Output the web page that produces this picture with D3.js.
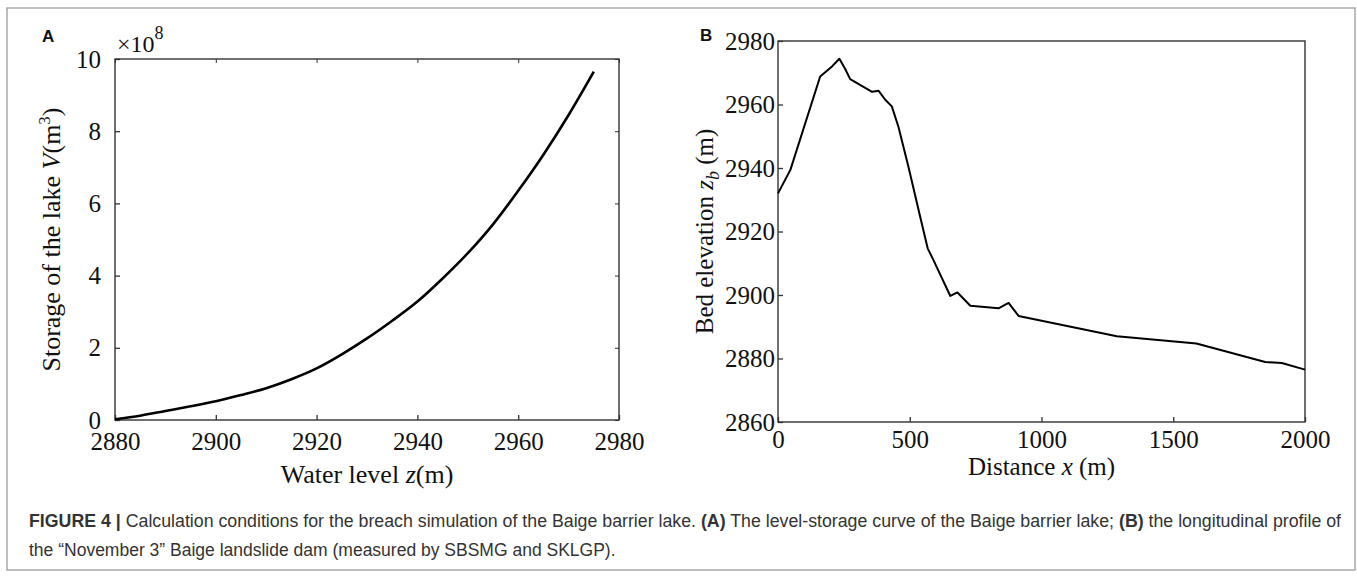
<!DOCTYPE html>
<html>
<head>
<meta charset="utf-8">
<script src="https://cdn.jsdelivr.net/npm/d3@7/dist/d3.min.js"></script>
<style>
  html, body { margin: 0; padding: 0; background: #fff; }
  svg { display: block; }
  .serif { font-family: "Liberation Serif", "Times New Roman", serif; fill: #111; }
  .axis path, .axis line { stroke: #333; }
  .axis text { font-family: "Liberation Serif", "Times New Roman", serif; fill: #111; }
  .caption { font-family: "Liberation Sans", Arial, Helvetica, sans-serif; fill: #333; font-size: 17.5px; }
</style>
</head>
<body>
<svg id="fig" width="1357" height="577"></svg>
<script>
// Panel A: level–storage curve of the Baige barrier lake (storage in 1e8 m³)
const levelZ   = [2880, 2885, 2890, 2895, 2900, 2905, 2910, 2915, 2920, 2925, 2930,
                  2935, 2940, 2945, 2950, 2955, 2960, 2965, 2970, 2975];
const storageV = [0.02, 0.12, 0.25, 0.38, 0.52, 0.69, 0.88, 1.13, 1.43, 1.82, 2.26,
                  2.75, 3.28, 3.92, 4.62, 5.42, 6.35, 7.35, 8.45, 9.65];
const levelTicks   = [2880, 2900, 2920, 2940, 2960, 2980];
const storageTicks = [0, 2, 4, 6, 8, 10];

// Panel B: longitudinal profile of the landslide dam
const distX = [0, 47, 160, 205, 233, 255, 274, 357, 382, 407, 432, 457, 495, 540,
               568, 590, 654, 681, 730, 837, 875, 913, 1286, 1588, 1849, 1912, 2000];
const bedZ  = [2932, 2939.4, 2968.8, 2972, 2974.4, 2971.2, 2968, 2964, 2964.3, 2961.5,
               2959.4, 2953, 2940.4, 2924.5, 2914.7, 2911, 2899.7, 2900.8, 2896.6,
               2895.8, 2897.5, 2893.4, 2887, 2884.7, 2878.9, 2878.6, 2876.5];
const distTicks = [0, 500, 1000, 1500, 2000];
const bedTicks  = [2860, 2880, 2900, 2920, 2940, 2960, 2980];

const plain = d3.format("d");
const svg = d3.select("#fig");

// outer figure frame
svg.append("rect")
  .attr("x", 7).attr("y", 8).attr("width", 1348).attr("height", 562)
  .attr("fill", "none").attr("stroke", "#9a9a9a").attr("stroke-width", 1.3);

// ---------- Panel A ----------
const A = { left: 115, right: 619, top: 59, bottom: 420 };
const xA = d3.scaleLinear().domain([2880, 2980]).range([A.left, A.right]);
const yA = d3.scaleLinear().domain([0, 10]).range([A.bottom, A.top]);

const gA = svg.append("g");
gA.append("rect")
  .attr("x", A.left).attr("y", A.top)
  .attr("width", A.right - A.left).attr("height", A.bottom - A.top)
  .attr("fill", "none").attr("stroke", "#333").attr("stroke-width", 1.4);

gA.append("g").attr("class", "axis")
  .attr("transform", `translate(0,${A.bottom})`)
  .call(d3.axisBottom(xA).tickValues(levelTicks).tickFormat(plain)
        .tickSizeInner(-5).tickSizeOuter(0).tickPadding(12))
  .call(g => g.select(".domain").remove())
  .call(g => g.selectAll("text").attr("font-size", 25))
  .call(g => g.selectAll("line").attr("stroke-width", 1.3));
gA.append("g").attr("class", "axis")
  .attr("transform", `translate(${A.left},0)`)
  .call(d3.axisLeft(yA).tickValues(storageTicks).tickFormat(plain)
        .tickSizeInner(-5).tickSizeOuter(0).tickPadding(14))
  .call(g => g.select(".domain").remove())
  .call(g => g.selectAll("text").attr("font-size", 25))
  .call(g => g.selectAll("line").attr("stroke-width", 1.3));
// faint mirrored ticks on the top and right edges
gA.append("g").attr("class", "axis")
  .attr("transform", `translate(0,${A.top})`)
  .call(d3.axisTop(xA).tickValues(levelTicks).tickSizeInner(-4).tickSizeOuter(0).tickFormat(""))
  .call(g => g.select(".domain").remove())
  .call(g => g.selectAll("line").attr("stroke", "#aaa"));
gA.append("g").attr("class", "axis")
  .attr("transform", `translate(${A.right},0)`)
  .call(d3.axisRight(yA).tickValues(storageTicks).tickSizeInner(-4).tickSizeOuter(0).tickFormat(""))
  .call(g => g.select(".domain").remove())
  .call(g => g.selectAll("line").attr("stroke", "#aaa"));

const lineA = d3.line().x((d, i) => xA(levelZ[i])).y(d => yA(d)).curve(d3.curveMonotoneX);
gA.append("path")
  .attr("d", lineA(storageV))
  .attr("fill", "none").attr("stroke", "#000").attr("stroke-width", 2.6);

// exponent marker
const expA = gA.append("text").attr("class", "serif")
  .attr("x", A.left + 2).attr("y", A.top - 7).attr("font-size", 24);
expA.append("tspan").text("×10");
expA.append("tspan").attr("dy", -13).attr("font-size", 18).text("8");

// axis titles
const xtA = gA.append("text").attr("class", "serif")
  .attr("x", (A.left + A.right) / 2).attr("y", 483)
  .attr("text-anchor", "middle").attr("font-size", 26);
xtA.append("tspan").text("Water level ");
xtA.append("tspan").attr("font-style", "italic").text("z");
xtA.append("tspan").text("(m)");

const ytA = gA.append("text").attr("class", "serif")
  .attr("transform", `translate(60,${(A.top + A.bottom) / 2}) rotate(-90)`)
  .attr("text-anchor", "middle").attr("font-size", 26);
ytA.append("tspan").text("Storage of the lake ");
ytA.append("tspan").attr("font-style", "italic").text("V");
ytA.append("tspan").text("(m");
ytA.append("tspan").attr("dy", -10).attr("font-size", 17).text("3");
ytA.append("tspan").attr("dy", 10).text(")");

gA.append("text")
  .attr("x", 42).attr("y", 42)
  .attr("font-family", "Liberation Sans, Arial, sans-serif")
  .attr("font-weight", "bold").attr("font-size", 17).attr("fill", "#111")
  .text("A");

// ---------- Panel B ----------
const B = { left: 778, right: 1305, top: 41, bottom: 422 };
const xB = d3.scaleLinear().domain([0, 2000]).range([B.left, B.right]);
const yB = d3.scaleLinear().domain([2860, 2980]).range([B.bottom, B.top]);

const gB = svg.append("g");
gB.append("rect")
  .attr("x", B.left).attr("y", B.top)
  .attr("width", B.right - B.left).attr("height", B.bottom - B.top)
  .attr("fill", "none").attr("stroke", "#333").attr("stroke-width", 1.4);

gB.append("g").attr("class", "axis")
  .attr("transform", `translate(0,${B.bottom})`)
  .call(d3.axisBottom(xB).tickValues(distTicks).tickFormat(plain)
        .tickSizeInner(-5).tickSizeOuter(0).tickPadding(8))
  .call(g => g.select(".domain").remove())
  .call(g => g.selectAll("text").attr("font-size", 25))
  .call(g => g.selectAll("line").attr("stroke-width", 1.3));
gB.append("g").attr("class", "axis")
  .attr("transform", `translate(${B.left},0)`)
  .call(d3.axisLeft(yB).tickValues(bedTicks).tickFormat(plain)
        .tickSizeInner(-5).tickSizeOuter(0).tickPadding(3))
  .call(g => g.select(".domain").remove())
  .call(g => g.selectAll("text").attr("font-size", 25))
  .call(g => g.selectAll("line").attr("stroke-width", 1.3));

const lineB = d3.line().x((d, i) => xB(distX[i])).y(d => yB(d));
gB.append("path")
  .attr("d", lineB(bedZ))
  .attr("fill", "none").attr("stroke", "#000").attr("stroke-width", 2)
  .attr("stroke-linejoin", "round");

const xtB = gB.append("text").attr("class", "serif")
  .attr("x", (B.left + B.right) / 2).attr("y", 475)
  .attr("text-anchor", "middle").attr("font-size", 25);
xtB.append("tspan").text("Distance ");
xtB.append("tspan").attr("font-style", "italic").text("x");
xtB.append("tspan").text(" (m)");

const ytB = gB.append("text").attr("class", "serif")
  .attr("transform", `translate(713,${(B.top + B.bottom) / 2}) rotate(-90)`)
  .attr("text-anchor", "middle").attr("font-size", 25);
ytB.append("tspan").text("Bed elevation ");
ytB.append("tspan").attr("font-style", "italic").text("z");
ytB.append("tspan").attr("font-style", "italic").attr("dy", 6).attr("font-size", 18).text("b");
ytB.append("tspan").attr("dy", -6).text(" (m)");

gB.append("text")
  .attr("x", 700).attr("y", 41)
  .attr("font-family", "Liberation Sans, Arial, sans-serif")
  .attr("font-weight", "bold").attr("font-size", 17).attr("fill", "#111")
  .text("B");

// ---------- Caption ----------
const cap1 = svg.append("text").attr("class", "caption").attr("x", 29).attr("y", 527)
  .attr("textLength", 1312).attr("lengthAdjust", "spacingAndGlyphs");
cap1.append("tspan").attr("font-weight", "bold").text("FIGURE 4 | ");
cap1.append("tspan").text("Calculation conditions for the breach simulation of the Baige barrier lake. ");
cap1.append("tspan").attr("font-weight", "bold").text("(A)");
cap1.append("tspan").text(" The level-storage curve of the Baige barrier lake; ");
cap1.append("tspan").attr("font-weight", "bold").text("(B)");
cap1.append("tspan").text(" the longitudinal profile of");

svg.append("text").attr("class", "caption").attr("x", 29).attr("y", 556)
  .text("the “November 3” Baige landslide dam (measured by SBSMG and SKLGP).");
</script>
</body>
</html>
